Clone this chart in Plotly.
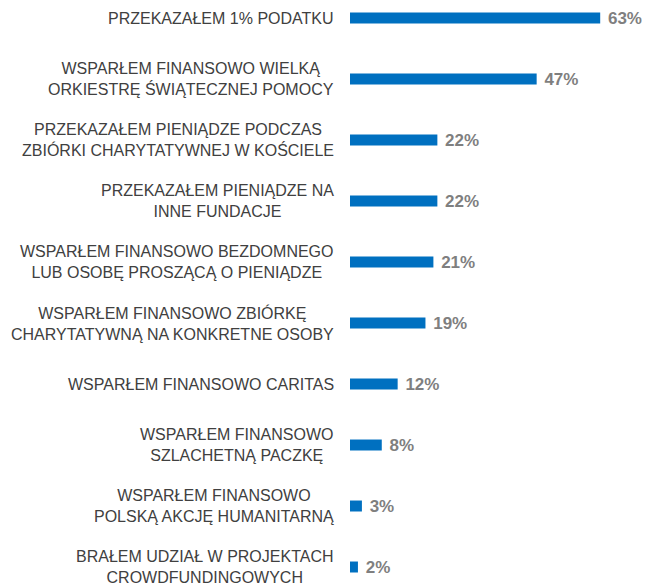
import plotly.graph_objects as go

labels = [
    "PRZEKAZAŁEM 1% PODATKU",
    "WSPARŁEM FINANSOWO WIELKĄ<br>ORKIESTRĘ ŚWIĄTECZNEJ POMOCY",
    "PRZEKAZAŁEM PIENIĄDZE PODCZAS<br>ZBIÓRKI CHARYTATYWNEJ W KOŚCIELE",
    "PRZEKAZAŁEM PIENIĄDZE NA<br>INNE FUNDACJE",
    "WSPARŁEM FINANSOWO BEZDOMNEGO<br>LUB OSOBĘ PROSZĄCĄ O PIENIĄDZE",
    "WSPARŁEM FINANSOWO ZBIÓRKĘ<br>CHARYTATYWNĄ NA KONKRETNE OSOBY",
    "WSPARŁEM FINANSOWO CARITAS",
    "WSPARŁEM FINANSOWO<br>SZLACHETNĄ PACZKĘ",
    "WSPARŁEM FINANSOWO<br>POLSKĄ AKCJĘ HUMANITARNĄ",
    "BRAŁEM UDZIAŁ W PROJEKTACH<br>CROWDFUNDINGOWYCH",
]
values = [63, 47, 22, 22, 21, 19, 12, 8, 3, 2]

pos = list(range(len(labels)))
font_family = "Liberation Sans Narrow, Arial Narrow, Liberation Sans, sans-serif"

fig = go.Figure()
fig.add_trace(go.Bar(
    x=values, y=pos, orientation="h", width=0.18,
    marker=dict(color="#0070C0", line=dict(width=0)),
    text=[f"\u00a0<b>{v}%</b>" for v in values], textposition="outside",
    constraintext="none",
    textfont=dict(family=font_family, size=17, color="#7F7F7F"),
    cliponaxis=False,
))

for p, lab in zip(pos, labels):
    fig.add_annotation(
        x=-0.05, xref="paper", y=p, yref="y",
        text=lab, showarrow=False, xanchor="right", align="center",
        font=dict(family=font_family, size=16, color="#404040"),
    )

fig.update_layout(
    width=650, height=585,
    margin=dict(l=342, r=30, t=0, b=0),
    plot_bgcolor="white", paper_bgcolor="white",
    showlegend=False,
    xaxis=dict(range=[0, 70], visible=False),
    yaxis=dict(range=[9.426, -0.164], visible=False),
)

fig.write_html("out.html")
